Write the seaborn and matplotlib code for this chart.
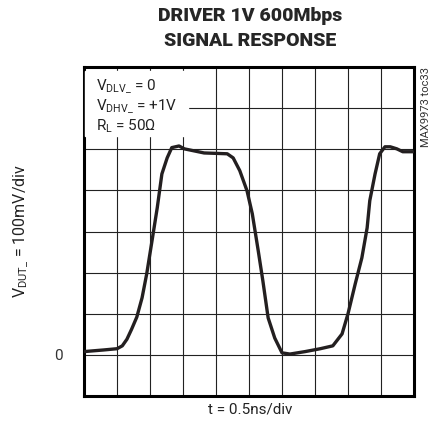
import pandas as pd
import seaborn as sns
import matplotlib.pyplot as plt

# time axis in ns (0.5 ns/div), voltage in mV (100 mV/div)
time_ns = [0.00, 0.30, 0.50, 0.58, 0.65, 0.72, 0.80, 0.88, 0.95, 1.03, 1.11, 1.18,
           1.26, 1.33, 1.44, 1.52, 1.67, 1.82, 2.00, 2.17, 2.26, 2.36, 2.47, 2.55,
           2.64, 2.71, 2.79, 2.89, 3.00, 3.12, 3.35, 3.58, 3.77, 3.91, 4.00, 4.11,
           4.21, 4.29, 4.33, 4.41, 4.48, 4.56, 4.64, 4.74, 4.83, 4.98]
vdut_mv = [8, 12, 15, 22, 38, 62, 92, 139, 197, 277, 358, 440,
           479, 504, 508, 501, 496, 491, 490, 489, 479, 448, 399, 343,
           253, 180, 90, 41, 5, 2, 8, 15, 22, 51, 100, 173,
           236, 309, 375, 440, 489, 506, 506, 501, 494, 494]

x_ticks = [0.5 * i for i in range(11)]
y_ticks = [-100 + 100 * i for i in range(9)]

cond_lines = [r"V$_{\mathregular{DLV\_}}$ = 0",
              r"V$_{\mathregular{DHV\_}}$ = +1V",
              r"R$_{\mathregular{L}}$ = 50$\Omega$"]

sns.set_style("white")
plt.rcParams['font.family'] = ['Roboto', 'DejaVu Sans']
plt.rcParams['mathtext.fontset'] = 'custom'
plt.rcParams['mathtext.rm'] = 'Roboto'
plt.rcParams['mathtext.it'] = 'Roboto'

df = pd.DataFrame({"t": time_ns, "v": vdut_mv})

fig = plt.figure(figsize=(4.38, 4.29), dpi=100)
ax = fig.add_axes([0.1918, 0.0769, 0.7534, 0.7669])

sns.lineplot(data=df, x="t", y="v", ax=ax, color="#231f20", linewidth=2.4, zorder=5)

ax.set_xlim(0, 5)
ax.set_ylim(-100, 700)
ax.set_xticks(x_ticks)
ax.set_yticks(y_ticks)
ax.set_xticklabels([])
ax.set_yticklabels(["" if v != 0 else "0" for v in y_ticks])
ax.tick_params(length=0, labelsize=11, pad=15, labelcolor="#333333")
ax.grid(True, color="#222222", linewidth=0.8)
for s in ax.spines.values():
    s.set_linewidth(2.2)
    s.set_color("black")
ax.set_xlabel("")
ax.set_ylabel("")

fig.text(0.571, 0.045, "t = 0.5ns/div", ha="center", va="center", fontsize=11, color="#222222")
fig.text(0.050, 0.4615, r"V$_{\mathregular{DUT\_}}$ = 100mV/div", rotation=90,
         ha="center", va="center", fontsize=11.5, color="#222222")

# white box behind the conditions text
ax.axvspan(0.02, 1.57, ymin=0.79, ymax=0.987, color="white", zorder=3)
for i, line in enumerate(cond_lines):
    ax.text(0.18, 676 - i * 49, line, fontsize=11, va="top", zorder=6, color="#222222")

fig.text(0.571, 0.983, "DRIVER 1V 600Mbps\nSIGNAL RESPONSE", ha="center", va="top",
         fontsize=14, fontweight="heavy", linespacing=1.45)
fig.text(0.973, 0.843, "MAX9973 toc33", rotation=90, ha="center", va="top", fontsize=8,
         color="#333333")

fig.savefig("out.png", dpi=100)
